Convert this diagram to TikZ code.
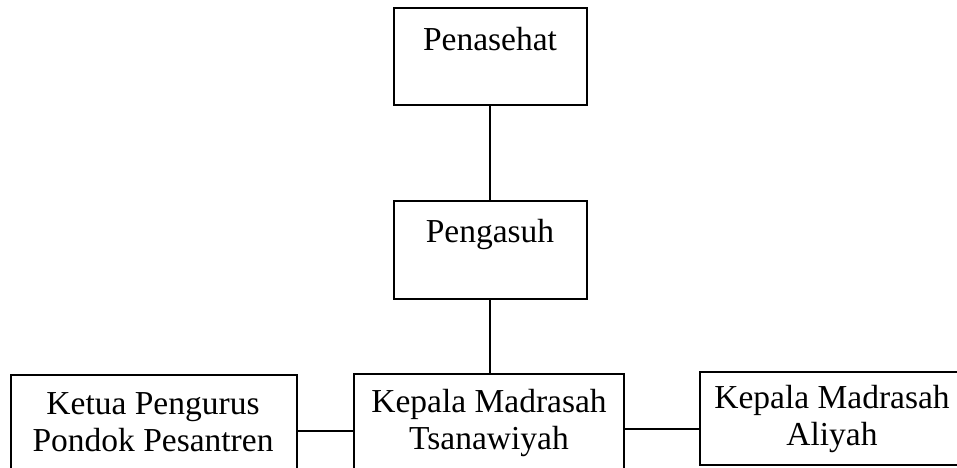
\documentclass[tikz,border=0pt]{standalone}
\usepackage{fontspec}
\setmainfont{Liberation Serif}
\begin{document}
\begin{tikzpicture}[x=1pt,y=-1pt,
  box/.style={draw=black,line width=1.6pt,rectangle,inner sep=0pt,anchor=north west},
  txt/.style={font=\fontsize{33.5}{36.5}\selectfont,align=center,inner sep=0pt,anchor=base},
  link/.style={draw=black,line width=1.5pt}]
\useasboundingbox (0,0) rectangle (957,467);
\node[box,minimum width=193pt,minimum height=97pt] (pen) at (393,7) {};
\node[box,minimum width=193pt,minimum height=98pt] (pgs) at (393,200) {};
\node[box,minimum width=286pt,minimum height=101pt] (ket) at (10,374) {};
\node[box,minimum width=270pt,minimum height=102pt] (tsa) at (353,373) {};
\node[box,minimum width=264pt,minimum height=93pt] (ali) at (699,371) {};
\node[txt] (penT) at (490,50) {Penasehat};
\node[txt] (pgsT) at (490,242) {Pengasuh};
\node[txt] (ketT) at (153,451) {Ketua Pengurus\\Pondok Pesantren};
\node[txt] (tsaT) at (489,449) {Kepala Madrasah\\Tsanawiyah};
\node[txt] (aliT) at (832,445) {Kepala Madrasah\\Aliyah};
\draw[link] (pen.south -| 490,0) -- (pgs.north -| 490,0);
\draw[link] (pgs.south -| 490,0) -- (tsa.north -| 490,0);
\draw[link] (ket.east |- 0,431) -- (tsa.west |- 0,431);
\draw[link] (tsa.east |- 0,429) -- (ali.west |- 0,429);
\end{tikzpicture}
\end{document}
